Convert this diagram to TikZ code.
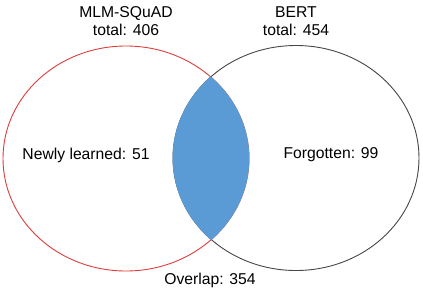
\documentclass[tikz,border=0pt]{standalone}
\usepackage{fontspec}
\setmainfont{Liberation Sans}
\definecolor{vred}{RGB}{222,60,60}
\definecolor{vgray}{RGB}{70,70,70}
\definecolor{vblue}{RGB}{91,155,213}
\begin{document}
\begin{tikzpicture}[x=1pt,y=-1pt,
  lbl/.style={font=\fontsize{15.7}{18.5}\selectfont, inner sep=0pt, align=center}]
\useasboundingbox (0,0) rectangle (423,292);
\draw[vred, line width=0.9pt] (126,158.5) ellipse [x radius=123, y radius=112.5];
\draw[vgray, line width=0.9pt] (296,158) ellipse [x radius=123, y radius=112.5];
\begin{scope}
  \clip (126,158.5) ellipse [x radius=123.4, y radius=112.9];
  \fill[vblue] (296,158) ellipse [x radius=123.4, y radius=112.9];
\end{scope}
\node[lbl] (mlm) at (126,21) {MLM-SQuAD\\total: 406};
\node[lbl] (bert) at (296,21) {BERT\\total: 454};
\node[lbl] (new) at (86,155) {Newly learned: 51};
\node[lbl] (forg) at (331,155) {Forgotten: 99};
\node[lbl] (ov) at (210,280) {Overlap: 354};
\end{tikzpicture}
\end{document}
